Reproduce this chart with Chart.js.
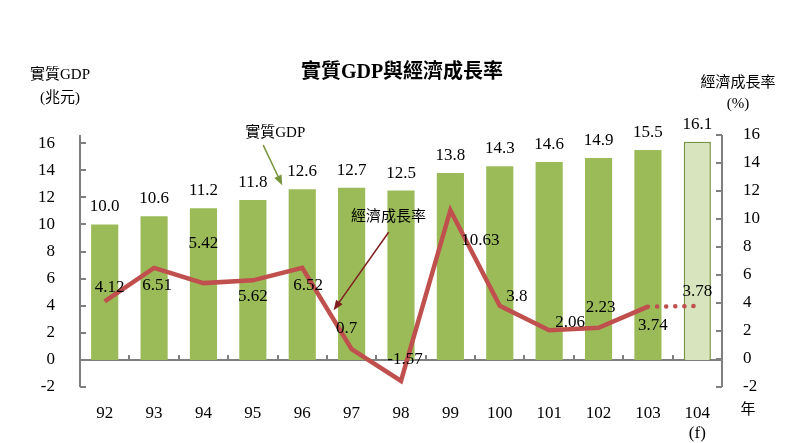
<!DOCTYPE html>
<html>
<head>
<meta charset="utf-8">
<script src="https://cdn.jsdelivr.net/npm/chart.js@4/dist/chart.umd.min.js"></script>
<style>
  html, body { margin: 0; padding: 0; background: #fff; }
  #wrap { width: 800px; height: 443px; }
</style>
</head>
<body>
<div id="wrap"><canvas id="c" width="800" height="443"></canvas></div>
<script>
// data
const years = ['92', '93', '94', '95', '96', '97', '98', '99', '100', '101', '102', '103', ['104', '(f)']];
const gdp = [10.0, 10.6, 11.2, 11.8, 12.6, 12.7, 12.5, 13.8, 14.3, 14.6, 14.9, 15.5, 16.1];
const gdpLabels = ['10.0', '10.6', '11.2', '11.8', '12.6', '12.7', '12.5', '13.8', '14.3', '14.6', '14.9', '15.5', '16.1'];
const growth = [4.12, 6.51, 5.42, 5.62, 6.52, 0.7, -1.57, 10.63, 3.8, 2.06, 2.23, 3.74, null];
const growthForecast = [null, null, null, null, null, null, null, null, null, null, null, 3.74, 3.78];
const growthLabels = ['4.12', '6.51', '5.42', '5.62', '6.52', '0.7', '-1.57', '10.63', '3.8', '2.06', '2.23', '3.74', '3.78'];
const growthValues = [4.12, 6.51, 5.42, 5.62, 6.52, 0.7, -1.57, 10.63, 3.8, 2.06, 2.23, 3.74, 3.78];
const tickValues = [-2, 0, 2, 4, 6, 8, 10, 12, 14, 16];
// label nudges (px) so the numbers sit where the original put them
const growthLabelOffsets = [[5, -14], [3, 18], [0, -40], [0, 16], [6, 18], [-5, -21], [4, -21],
  [30, 30], [17, -9], [21, -8], [2, -20], [5, 19], [0, -15]];

const SERIF = '"Liberation Serif", "Noto Sans CJK TC", serif';
const GREEN = '#9BBB59';
const GREEN_DARK = '#77933C';
const RED = '#C0504D';
const AXIS = '#7F7F7F';

function arrow(ctx, x1, y1, x2, y2, color) {
  const a = Math.atan2(y2 - y1, x2 - x1);
  ctx.save();
  ctx.strokeStyle = color;
  ctx.fillStyle = color;
  ctx.lineWidth = 1.5;
  ctx.beginPath();
  ctx.moveTo(x1, y1);
  ctx.lineTo(x2 - 8 * Math.cos(a), y2 - 8 * Math.sin(a));
  ctx.stroke();
  ctx.beginPath();
  ctx.moveTo(x2, y2);
  ctx.lineTo(x2 - 10 * Math.cos(a) + 4 * Math.sin(a), y2 - 10 * Math.sin(a) - 4 * Math.cos(a));
  ctx.lineTo(x2 - 10 * Math.cos(a) - 4 * Math.sin(a), y2 - 10 * Math.sin(a) + 4 * Math.cos(a));
  ctx.closePath();
  ctx.fill();
  ctx.restore();
}

const axesPlugin = {
  id: 'axesPlugin',
  beforeDatasetsDraw(chart) {
    // zero line with category ticks, under the bars and line
    const { ctx, chartArea: a, scales } = chart;
    const y0 = Math.round(scales.y.getPixelForValue(0));
    ctx.save();
    ctx.setLineDash([]);
    ctx.strokeStyle = AXIS;
    ctx.lineWidth = 2;
    ctx.beginPath();
    ctx.moveTo(a.left, y0); ctx.lineTo(a.right, y0);
    const step = (a.right - a.left) / years.length;
    for (let i = 1; i < years.length; i++) {
      const px = Math.round(a.left + step * i);
      ctx.moveTo(px, y0); ctx.lineTo(px, y0 - 5);
    }
    ctx.stroke();
    ctx.restore();
  },
  afterDatasetsDraw(chart) {
    const { ctx, chartArea: a, scales: { x, y, y2 } } = chart;
    ctx.save();
    ctx.setLineDash([]);
    ctx.strokeStyle = AXIS;
    ctx.lineWidth = 2;
    ctx.beginPath();
    ctx.moveTo(Math.round(a.left), a.top); ctx.lineTo(Math.round(a.left), a.bottom);
    ctx.moveTo(Math.round(a.right), a.top); ctx.lineTo(Math.round(a.right), a.bottom);
    tickValues.forEach(v => {
      const pl = Math.round(y.getPixelForValue(v));
      const pr = Math.round(y2.getPixelForValue(v));
      ctx.moveTo(a.left, pl); ctx.lineTo(a.left + 6, pl);
      ctx.moveTo(a.right, pr); ctx.lineTo(a.right - 6, pr);
    });
    ctx.stroke();

    ctx.fillStyle = '#000';
    ctx.font = '17px ' + SERIF;
    ctx.textAlign = 'center';
    ctx.textBaseline = 'bottom';
    gdp.forEach((v, i) => {
      ctx.fillText(gdpLabels[i], x.getPixelForValue(i), y.getPixelForValue(v) - 9);
    });
    ctx.textBaseline = 'middle';
    growthValues.forEach((v, i) => {
      const [dx, dy] = growthLabelOffsets[i];
      ctx.fillText(growthLabels[i], x.getPixelForValue(i) + dx, y2.getPixelForValue(v) + dy);
    });

    // title and axis titles
    ctx.font = 'bold 20px ' + SERIF;
    ctx.fillText('實質GDP與經濟成長率', 402, 73);
    ctx.font = '15px ' + SERIF;
    ctx.fillText('實質GDP', 60, 75);
    ctx.fillText('(兆元)', 60, 98);
    ctx.fillText('經濟成長率', 738, 83);
    ctx.fillText('(%)', 738, 104);
    ctx.fillText('年', 748, 410);

    // callouts
    const bx = x.getPixelForValue(4), by = y.getPixelForValue(gdp[4]);
    ctx.fillText('實質GDP', bx - 27, by - 56);
    arrow(ctx, bx - 39, by - 44, bx - 20, by - 4, GREEN_DARK);
    const lx = x.getPixelForValue(5), ly = y2.getPixelForValue(growth[5]);
    ctx.fillText('經濟成長率', lx + 37, ly - 132);
    arrow(ctx, lx + 37, ly - 117, lx - 18, ly - 39, '#7F1F1F');
    ctx.restore();
  }
};

new Chart(document.getElementById('c'), {
  data: {
    labels: years,
    datasets: [
      {
        type: 'line',
        data: growth,
        yAxisID: 'y2',
        borderColor: RED,
        borderWidth: 4.5,
        pointRadius: 0,
        tension: 0,
        order: 0
      },
      {
        type: 'line',
        data: growthForecast,
        yAxisID: 'y2',
        borderColor: RED,
        borderWidth: 4.5,
        borderDash: [0.1, 9],
        borderCapStyle: 'round',
        pointRadius: 0,
        tension: 0,
        order: 0
      },
      {
        type: 'bar',
        data: gdp,
        yAxisID: 'y',
        backgroundColor: gdp.map((v, i) => i === gdp.length - 1 ? '#D7E4BD' : GREEN),
        borderColor: gdp.map((v, i) => i === gdp.length - 1 ? GREEN_DARK : GREEN),
        borderWidth: gdp.map((v, i) => i === gdp.length - 1 ? 1.5 : 0),
        borderSkipped: 'bottom',
        categoryPercentage: 1,
        barPercentage: 0.55,
        order: 1
      }
    ]
  },
  options: {
    responsive: false,
    animation: false,
    layout: { padding: { top: 135, right: 0, left: 0, bottom: 0 } },
    plugins: {
      legend: { display: false },
      tooltip: { enabled: false },
      title: { display: false }
    },
    scales: {
      x: {
        grid: { display: false },
        border: { display: false },
        ticks: { color: '#000', font: { family: SERIF, size: 17 }, padding: 8, maxRotation: 0 },
        afterFit(s) { s.height = 56; }
      },
      y: {
        position: 'left',
        min: -2, max: 16.6,
        grid: { display: false },
        border: { display: false },
        ticks: { stepSize: 2, color: '#000', font: { family: SERIF, size: 17 }, padding: 17 },
        afterBuildTicks(s) { s.ticks = tickValues.map(v => ({ value: v })); },
        afterFit(s) { s.width = 80; }
      },
      y2: {
        position: 'right',
        min: -2, max: 16,
        grid: { display: false },
        border: { display: false },
        ticks: { stepSize: 2, color: '#000', font: { family: SERIF, size: 17 }, padding: 13 },
        afterBuildTicks(s) { s.ticks = tickValues.map(v => ({ value: v })); },
        afterFit(s) { s.width = 78; }
      }
    }
  },
  plugins: [axesPlugin]
});
</script>
</body>
</html>
